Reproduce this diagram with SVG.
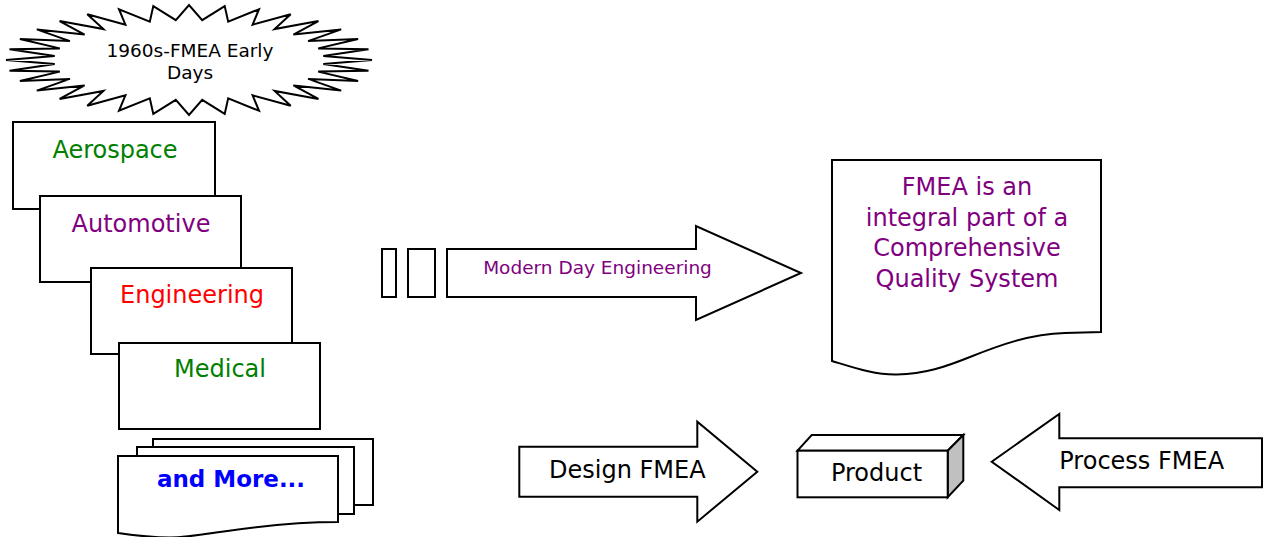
<svg xmlns="http://www.w3.org/2000/svg" width="1263" height="537" viewBox="0 0 1263 537">
  <style>
    .shape { fill: #ffffff; stroke: #000000; stroke-width: 2; stroke-linejoin: miter; }
    .label { font-family: "DejaVu Sans", Verdana, sans-serif; text-anchor: middle; }
    .big { font-size: 24px; }
    .green { fill: #008000; }
    .purple { fill: #800080; }
    .red { fill: #ff0000; }
    .blue { fill: #0000ff; font-weight: bold; }
    .black { fill: #000000; }
  </style>
  <rect x="0" y="0" width="1263" height="537" fill="#ffffff"/>

  <!-- burst: early days (32-point star on an ellipse) -->
  <g id="early-days">
    <polygon class="shape" points="372,60 323.3,56.1 368.5,49.3 318.2,48.4 358.1,39 308.1,41.1 341.2,29.4 293.4,34.6 318.4,21.1 274.6,29.1 290.7,14.3 252.6,24.7 259,9.2 228.2,21.7 224.7,6.1 202.2,20.2 189,5 175.8,20.2 153.3,6.1 149.8,21.7 119,9.2 125.4,24.7 87.3,14.3 103.4,29.1 59.6,21.1 84.6,34.6 36.8,29.4 69.9,41.1 19.9,39 59.8,48.4 9.5,49.3 54.7,56.1 6,60 54.7,63.9 9.5,70.7 59.8,71.6 19.9,81 69.9,78.9 36.8,90.6 84.6,85.4 59.6,98.9 103.4,90.9 87.3,105.7 125.4,95.3 119,110.8 149.8,98.3 153.3,113.9 175.8,99.8 189,115 202.2,99.8 224.7,113.9 228.2,98.3 259,110.8 252.6,95.3 290.7,105.7 274.6,90.9 318.4,98.9 293.4,85.4 341.2,90.6 308.1,78.9 358.1,81 318.2,71.6 368.5,70.7 323.3,63.9"/>
    <text class="label black" x="190" y="57" font-size="18.5">1960s-FMEA Early</text>
    <text class="label black" x="190" y="78.5" font-size="18.5">Days</text>
  </g>

  <!-- industry cards -->
  <g id="aerospace">
    <rect class="shape" x="13" y="122" width="202" height="87"/>
    <text class="label big green" x="115" y="158">Aerospace</text>
  </g>
  <g id="automotive">
    <rect class="shape" x="40" y="196" width="201" height="86"/>
    <text class="label big purple" x="141" y="232">Automotive</text>
  </g>
  <g id="engineering">
    <rect class="shape" x="91" y="268" width="201" height="86"/>
    <text class="label big red" x="192" y="303">Engineering</text>
  </g>
  <g id="medical">
    <rect class="shape" x="119" y="343" width="201" height="86"/>
    <text class="label big green" x="220" y="377">Medical</text>
  </g>
  <g id="and-more">
    <rect class="shape" x="153" y="439" width="220" height="66"/>
    <rect class="shape" x="137" y="447" width="217" height="67"/>
    <path class="shape" d="M118,456 H338 V522 C300,522 260,526 220,532 C200,535 185,537.5 170,537.5 C150,537.5 135,535.5 118,533 Z"/>
    <text class="label blue" x="231" y="487" font-size="23">and More...</text>
  </g>

  <!-- quality system document -->
  <g id="quality-system">
    <path class="shape" d="M832,160 H1101 V332 L1065,333 C1030,334 1000,345 970,357 C945,367 925,374 897,374.5 C875,375 855,368 832,361 Z"/>
    <text class="label big purple" x="967" y="195">FMEA is an</text>
    <text class="label big purple" x="967" y="225.5">integral part of a</text>
    <text class="label big purple" x="967" y="256">Comprehensive</text>
    <text class="label big purple" x="967" y="287">Quality System</text>
  </g>

  <!-- product block -->
  <g id="product">
    <polygon class="shape" points="797.5,450.7 811.7,435 963.3,435 947.7,450.7"/>
    <polygon class="shape" points="947.7,450.7 963.3,435 963.3,480.7 947.7,497.3" style="fill:#c0c0c0"/>
    <rect class="shape" x="797.5" y="450.7" width="150.2" height="46.6"/>
    <text class="label big black" x="876.5" y="481">Product</text>
  </g>

  <!-- block arrows -->
  <g id="connectors">
    <g id="modern-day-engineering">
      <rect class="shape" x="382" y="249" width="14" height="48"/>
      <rect class="shape" x="408" y="249" width="27" height="48"/>
      <polygon class="shape" points="447,249 696,249 696,226 801,273 696,320 696,297 447,297"/>
      <text class="label purple" x="597.5" y="274" font-size="18.5">Modern Day Engineering</text>
    </g>
    <g id="design-fmea">
      <polygon class="shape" points="519.3,446.7 697.3,446.7 697.3,421.7 757.3,471.7 697.3,521.7 697.3,496.7 519.3,496.7"/>
      <text class="label big black" x="627.3" y="478.3">Design FMEA</text>
    </g>
    <g id="process-fmea">
      <polygon class="shape" points="1262,438.3 1059.3,438.3 1059.3,414 991.7,461.7 1059.3,510 1059.3,487.3 1262,487.3"/>
      <text class="label big black" x="1141.7" y="469.3">Process FMEA</text>
    </g>
  </g>
</svg>
